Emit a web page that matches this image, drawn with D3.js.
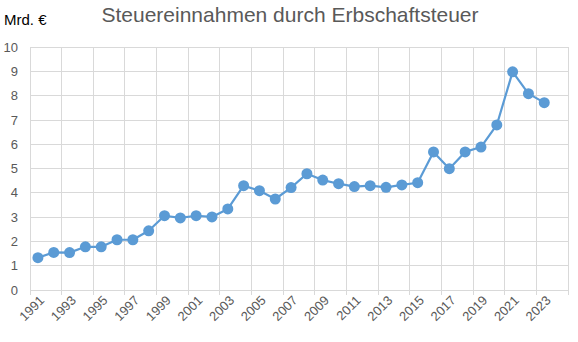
<!DOCTYPE html>
<html><head><meta charset="utf-8">
<script src="https://cdn.jsdelivr.net/npm/d3@7"></script>
<style>body{margin:0;background:#fff;}svg{display:block;}</style>
</head><body>
<svg id="c" width="578" height="342"></svg>
<script>
const years = ["1991","1992","1993","1994","1995","1996","1997","1998","1999","2000","2001","2002","2003","2004","2005","2006","2007","2008","2009","2010","2011","2012","2013","2014","2015","2016","2017","2018","2019","2020","2021","2022","2023","2024"];
const values = [1.33,1.55,1.54,1.78,1.78,2.07,2.07,2.44,3.06,2.97,3.06,3.01,3.34,4.30,4.09,3.75,4.22,4.79,4.53,4.38,4.26,4.30,4.23,4.33,4.42,5.69,5.00,5.69,5.89,6.80,8.99,8.09,7.72,null];
const yTicks = [0,1,2,3,4,5,6,7,8,9,10];
const title = "Steuereinnahmen durch Erbschaftsteuer";
const unit = "Mrd. €";

const svg = d3.select("#c");
const L = 30, R = 568, T = 47.3, B = 290;
const x = d3.scaleBand().domain(years).range([L, R]).padding(0);
const y = d3.scaleLinear().domain([0, 10]).range([B, T]);
const font = "'Liberation Sans', Arial, sans-serif";
const grid = "#d9d9d9";

// horizontal gridlines
svg.append("g").selectAll("line").data(yTicks).join("line")
  .attr("x1", L).attr("x2", R).attr("y1", d => y(d)).attr("y2", d => y(d))
  .attr("stroke", grid).attr("stroke-width", 1).attr("shape-rendering","crispEdges");

// vertical gridlines at every 2nd category boundary
const bounds = d3.range(0, years.length + 1, 2).map(k => L + k * x.bandwidth());
svg.append("g").selectAll("line").data(bounds).join("line")
  .attr("x1", d => d).attr("x2", d => d).attr("y1", T).attr("y2", B + 5)
  .attr("stroke", grid).attr("stroke-width", 1).attr("shape-rendering","crispEdges");

// y labels
svg.append("g").selectAll("text").data(yTicks).join("text")
  .attr("x", 18).attr("y", d => y(d)).attr("dy", "0.35em")
  .attr("text-anchor", "end").attr("font-family", font).attr("font-size", 13)
  .attr("fill", "#595959").text(d => d);

// x labels (every 2nd year)
const labYears = years.filter((d, i) => i % 2 === 0 && values[i] !== null);
svg.append("g").selectAll("text").data(labYears).join("text")
  .attr("transform", d => `translate(${x(d) + x.bandwidth()/2 + 4},${B + 8}) rotate(-45)`)
  .attr("text-anchor", "end").attr("dy", "0.35em")
  .attr("font-family", font).attr("font-size", 13).attr("fill", "#595959").text(d => d);

const pts = years.map((d, i) => ({year: d, v: values[i]})).filter(p => p.v !== null);
const line = d3.line().x(p => x(p.year) + x.bandwidth()/2).y(p => y(p.v));
svg.append("path").datum(pts).attr("d", line).attr("fill", "none")
  .attr("stroke", "#5b9bd5").attr("stroke-width", 2.2).attr("stroke-linejoin", "round");
svg.append("g").selectAll("circle").data(pts).join("circle")
  .attr("cx", p => x(p.year) + x.bandwidth()/2).attr("cy", p => y(p.v)).attr("r", 5.5)
  .attr("fill", "#5b9bd5");

svg.append("text").attr("x", 290).attr("y", 22).attr("text-anchor", "middle")
  .attr("font-family", font).attr("font-size", 21).attr("fill", "#595959").text(title);
svg.append("text").attr("x", 4).attr("y", 25)
  .attr("font-family", font).attr("font-size", 15).attr("fill", "#000").text(unit);
</script>
</body></html>
